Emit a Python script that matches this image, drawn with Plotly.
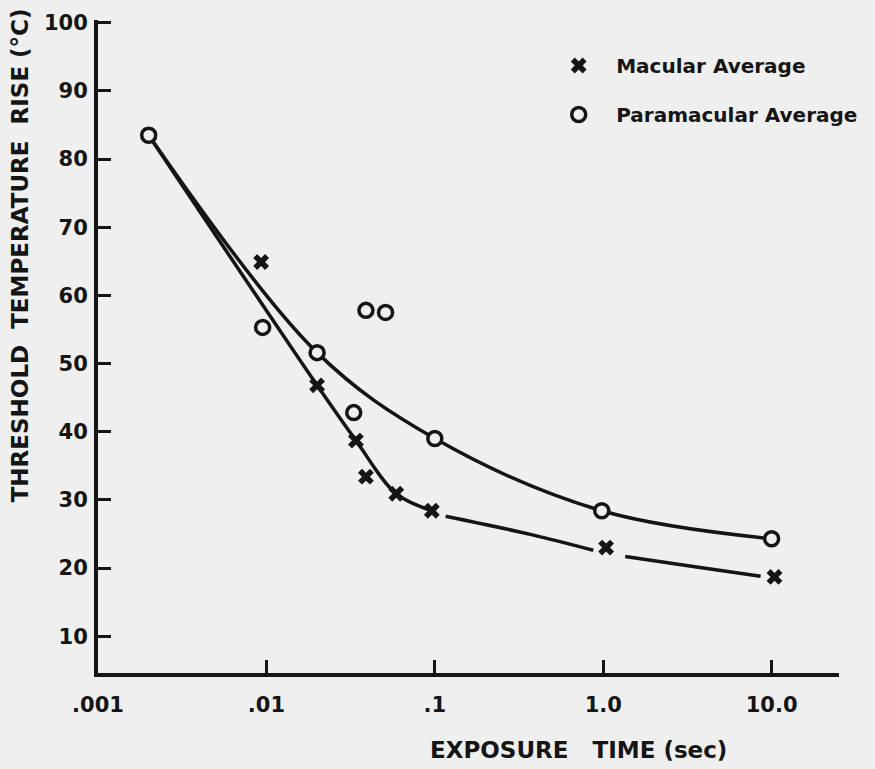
import plotly.graph_objects as go

# Exposure duration (s) and measured threshold temperature rise (deg C)
macular_time = [0.002, 0.0093, 0.02, 0.034, 0.039, 0.059, 0.096, 1.04, 10.4]
macular_rise = [83.5, 64.9, 46.8, 38.7, 33.4, 30.9, 28.4, 23.0, 18.7]

paramacular_time = [0.002, 0.0095, 0.02, 0.033, 0.039, 0.051, 0.1, 0.98, 10.0]
paramacular_rise = [83.5, 55.3, 51.6, 42.8, 57.8, 57.5, 39.0, 28.4, 24.3]

# Hand-faired curves through each data set (the macular curve is drawn in pieces)
para_curve_time = [0.002, 0.02, 0.1, 0.98, 10.0]
para_curve_rise = [83.5, 51.6, 39.0, 28.4, 24.3]

mac_curve_a_time = [0.002, 0.02, 0.034, 0.059, 0.096]
mac_curve_a_rise = [83.5, 46.8, 38.7, 30.9, 28.4]
mac_curve_b_time = [0.116, 0.375, 0.873]
mac_curve_b_rise = [27.6, 24.9, 22.6]
mac_curve_c_time = [1.35, 3.5, 8.6]
mac_curve_c_rise = [21.7, 20.2, 18.8]

x_tick_vals = [0.001, 0.01, 0.1, 1, 10]
x_tick_text = [".001", ".01", ".1", "1.0", "10.0"]
y_tick_vals = [10, 20, 30, 40, 50, 60, 70, 80, 90, 100]

W, H = 875, 769
ML, MR, MT, MB = 98, 33, 20, 96
PW, PH = W - ML - MR, H - MT - MB

INK = "#151515"
PAPER = "#efefef"
BOLD = "DejaVu Sans"


def px(xp, yp):
    """Convert page pixel position to paper coordinates."""
    return (xp - ML) / PW, (H - MB - yp) / PH


fig = go.Figure()

for t, r in [(para_curve_time, para_curve_rise),
             (mac_curve_a_time, mac_curve_a_rise),
             (mac_curve_b_time, mac_curve_b_rise),
             (mac_curve_c_time, mac_curve_c_rise)]:
    fig.add_trace(go.Scatter(
        x=t, y=r, mode="lines", showlegend=False, hoverinfo="skip",
        line=dict(color=INK, width=3.5, shape="spline", smoothing=1.0),
    ))

fig.add_trace(go.Scatter(
    x=macular_time, y=macular_rise, mode="markers", name="Macular Average",
    legendgroup="mac",
    marker=dict(symbol="x", size=14, color=INK, line=dict(width=0)),
))
fig.add_trace(go.Scatter(
    x=paramacular_time, y=paramacular_rise, mode="markers",
    name="Paramacular Average", legendgroup="para",
    marker=dict(symbol="circle", size=14, color=PAPER,
                line=dict(color=INK, width=3.5)),
))

annotations = []
tx, ty = px(20, 255)
annotations.append(dict(
    x=tx, y=ty, xref="paper", yref="paper", xanchor="center",
    yanchor="middle", textangle=-90, showarrow=False,
    text="<b>THRESHOLD  TEMPERATURE  RISE (°C)</b>",
    font=dict(family=BOLD, size=23, color=INK),
))
tx, ty = px(580, 750)
annotations.append(dict(
    x=tx, y=ty, xref="paper", yref="paper", xanchor="center",
    yanchor="middle", showarrow=False,
    text="<b>EXPOSURE   TIME (sec)</b>",
    font=dict(family=BOLD, size=23, color=INK),
))

lx, ly = px(543, 46)
fig.update_layout(
    width=W, height=H,
    margin=dict(l=ML, r=MR, t=MT, b=MB),
    paper_bgcolor=PAPER, plot_bgcolor=PAPER,
    annotations=annotations,
    showlegend=True,
    legend=dict(
        x=lx, y=ly, xanchor="left", yanchor="top",
        bgcolor="rgba(0,0,0,0)", borderwidth=0,
        font=dict(family=BOLD, size=20, color=INK, weight="bold"),
        tracegroupgap=20, itemsizing="trace", itemwidth=65,
    ),
    xaxis=dict(
        type="log", range=[-3, 1.40],
        tickvals=x_tick_vals, ticktext=x_tick_text,
        showline=True, linecolor=INK, linewidth=4,
        ticks="inside", ticklen=13, tickwidth=3, tickcolor=INK,
        showgrid=False, zeroline=False, ticklabelstandoff=10,
        tickfont=dict(family=BOLD, size=21, color=INK, weight="bold"),
    ),
    yaxis=dict(
        range=[4.6, 100.4],
        tickvals=y_tick_vals,
        showline=True, linecolor=INK, linewidth=4,
        ticks="inside", ticklen=13, tickwidth=3, tickcolor=INK,
        showgrid=False, zeroline=False, ticklabelstandoff=2,
        tickfont=dict(family=BOLD, size=21, color=INK, weight="bold"),
    ),
)

fig.write_html("out.html")
